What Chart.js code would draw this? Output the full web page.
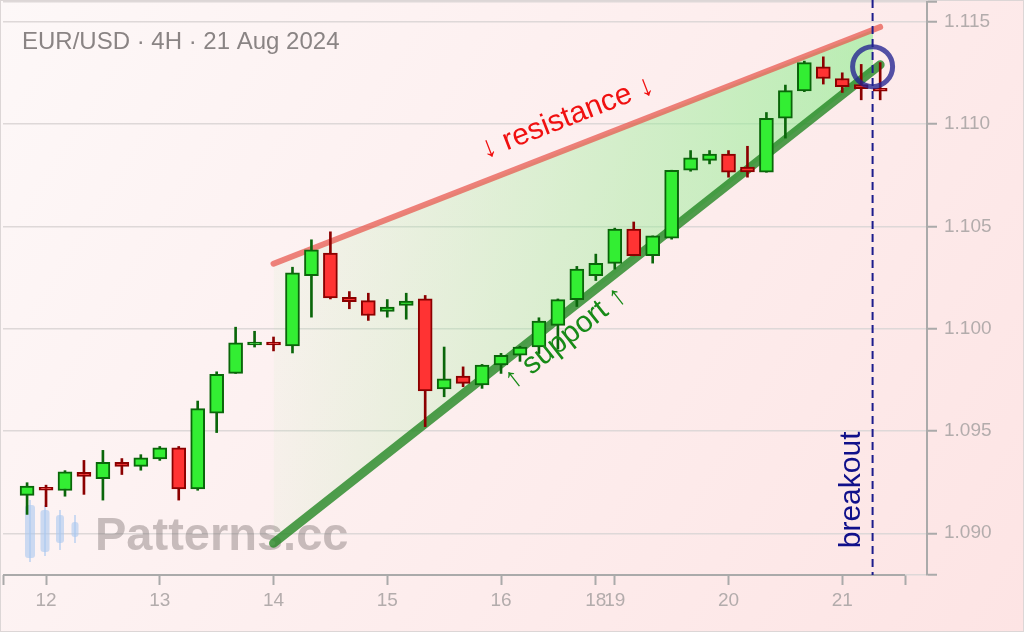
<!DOCTYPE html>
<html>
<head>
<meta charset="utf-8">
<script src="https://cdn.jsdelivr.net/npm/chart.js@4.4.1/dist/chart.umd.min.js"></script>
<style>
  html, body { margin: 0; padding: 0; background: #fdf2f2; }
  canvas { display: block; }
</style>
</head>
<body>
<canvas id="chart" width="1024" height="632"></canvas>
<script>
// EUR/USD 4H Kerzen, Index 0 = erste Kerze links
const opens  = [1.09185, 1.09220, 1.09209, 1.09298, 1.09267, 1.09347, 1.09327, 1.09363, 1.09417, 1.09217,
                1.09587, 1.09781, 1.09920, 1.09928, 1.09915, 1.10259, 1.10369, 1.10153, 1.10137, 1.10084,
                1.10113, 1.10145, 1.09705, 1.09768, 1.09725, 1.09822, 1.09870, 1.09910, 1.10016, 1.10142,
                1.10259, 1.10319, 1.10486, 1.10356, 1.10442, 1.10774, 1.10822, 1.10853, 1.10789, 1.10764,
                1.11028, 1.11161, 1.11279, 1.11222, 1.11193, 1.11173];
const highs  = [1.09247, 1.09235, 1.09306, 1.09356, 1.09405, 1.09365, 1.09384, 1.09424, 1.09424, 1.09646,
                1.09789, 1.10007, 1.09987, 1.09959, 1.10300, 1.10434, 1.10473, 1.10181, 1.10173, 1.10142,
                1.10173, 1.10162, 1.09910, 1.09813, 1.09825, 1.09879, 1.09914, 1.10053, 1.10145, 1.10304,
                1.10364, 1.10491, 1.10521, 1.10453, 1.10774, 1.10870, 1.10870, 1.10870, 1.10891, 1.11056,
                1.11190, 1.11307, 1.11328, 1.11250, 1.11291, 1.11300];
const lows   = [1.09092, 1.09130, 1.09181, 1.09190, 1.09162, 1.09287, 1.09308, 1.09356, 1.09162, 1.09210,
                1.09492, 1.09781, 1.09910, 1.09891, 1.09881, 1.10056, 1.10145, 1.10097, 1.10040, 1.10056,
                1.10046, 1.09521, 1.09667, 1.09716, 1.09708, 1.09781, 1.09840, 1.09878, 1.09900, 1.10108,
                1.10235, 1.10291, 1.10356, 1.10320, 1.10437, 1.10769, 1.10805, 1.10740, 1.10740, 1.10764,
                1.10931, 1.11158, 1.11195, 1.11154, 1.11118, 1.11118];
const closes = [1.09230, 1.09210, 1.09300, 1.09278, 1.09347, 1.09326, 1.09368, 1.09417, 1.09217, 1.09609,
                1.09776, 1.09930, 1.09928, 1.09920, 1.10272, 1.10385, 1.10150, 1.10132, 1.10064, 1.10105,
                1.10134, 1.09695, 1.09755, 1.09732, 1.09822, 1.09870, 1.09910, 1.10037, 1.10142, 1.10291,
                1.10319, 1.10486, 1.10356, 1.10453, 1.10774, 1.10834, 1.10853, 1.10764, 1.10766, 1.11028,
                1.11163, 1.11300, 1.11222, 1.11182, 1.11173, 1.11160];

// Tageslabels auf der x-Achse (erste Kerze des Tages)
const dayLabels = ["12", "13", "14", "15", "16", "18", "19", "20", "21"];
const dayStarts = [1, 7, 13, 19, 25, 30, 31, 37, 43];

// Y-Achse
const yTicks = [1.090, 1.095, 1.100, 1.105, 1.110, 1.115];
const yMin = 1.08796, yMax = 1.11596;
const xMin = -1.27, xMax = 47.47, xAxisEnd = 46.31;

// Keil: Widerstand und Unterstützung (Kerzenindex / Kurs)
const resistanceX = [13, 45];
const resistanceY = [1.10317, 1.11474];
const supportX = [13, 45];
const supportY = [1.08951, 1.11289];

// Ausbruch
const breakoutX = 44.6;
const breakoutCircleY = 1.1128;

// Beschriftungen (Kerzenindex / Kurs)
const resistanceLabel = { x: 28.5, y: 1.1103 };
const supportLabel = { x: 28.4, y: 1.09954 };
const breakoutLabel = { x: 43.5, y: 1.09212 };

const FONT = "'Liberation Sans', Arial, sans-serif";
const isUp = opens.map((o, i) => closes[i] >= o);

// Grüne Fläche im Keil, endet beim Ausbruch
function wedgeFill(context) {
  const chart = context.chart;
  const { ctx, chartArea, scales } = chart;
  if (!chartArea) return "rgba(0,0,0,0)";
  const x0 = scales.x.getPixelForValue(supportX[0]);
  const x1 = scales.x.getPixelForValue(supportX[1]);
  const xb = scales.x.getPixelForValue(breakoutX);
  const t = (xb - x0) / (x1 - x0);
  const g = ctx.createLinearGradient(x0, 0, x1, 0);
  g.addColorStop(0, "rgba(144,238,144,0.06)");
  g.addColorStop(t, "rgba(144,238,144,0.62)");
  g.addColorStop(Math.min(1, t + 0.001), "rgba(144,238,144,0)");
  g.addColorStop(1, "rgba(144,238,144,0)");
  return g;
}

function lineAngle(chart, xs, ys) {
  const sx = chart.scales.x, sy = chart.scales.y;
  const dx = sx.getPixelForValue(xs[1]) - sx.getPixelForValue(xs[0]);
  const dy = sy.getPixelForValue(ys[1]) - sy.getPixelForValue(ys[0]);
  return Math.atan2(dy, dx);
}

function drawLabel(ctx, text, x, y, angle, color) {
  ctx.save();
  ctx.translate(x, y);
  ctx.rotate(angle);
  ctx.font = "30px " + FONT;
  ctx.fillStyle = color;
  ctx.textAlign = "center";
  ctx.textBaseline = "middle";
  ctx.fillText(text, 0, 0);
  ctx.restore();
}

// Scale-Ränder nicht automatisch reservieren
function noPadding(s) {
  s.paddingTop = 0;
  s.paddingBottom = 0;
  s.paddingLeft = 0;
  s.paddingRight = 0;
}

// Hintergrund, Wasserzeichen und Markierungen
const deko = {
  id: "deko",
  beforeDraw(chart) {
    const { ctx, width, height } = chart;
    const g = ctx.createLinearGradient(0, 0, width, height);
    g.addColorStop(0, "#fdf8f8");
    g.addColorStop(1, "#fde4e4");
    ctx.save();
    ctx.fillStyle = g;
    ctx.fillRect(0, 0, width, height);
    ctx.strokeStyle = "#dcd6d6";
    ctx.lineWidth = 1;
    ctx.strokeRect(0.5, 0.5, width - 1, height - 1);
    ctx.restore();
  },
  beforeDatasetsDraw(chart) {
    const ctx = chart.ctx;
    ctx.save();
    // kleines Kerzen-Logo
    const logo = [[30, 500, 562, 505, 558, 10], [45, 505, 556, 510, 552, 9], [60, 510, 550, 515, 543, 8], [75, 515, 543, 522, 537, 7]];
    ctx.fillStyle = "rgba(170,200,240,0.6)";
    ctx.strokeStyle = "rgba(170,200,240,0.6)";
    ctx.lineWidth = 2;
    logo.forEach(([cx, wt, wb, bt, bb, w]) => {
      ctx.beginPath();
      ctx.moveTo(cx, wt);
      ctx.lineTo(cx, wb);
      ctx.stroke();
      ctx.beginPath();
      ctx.roundRect(cx - w / 2, bt, w, bb - bt, 3);
      ctx.fill();
    });
    ctx.font = "bold 47px " + FONT;
    ctx.fillStyle = "rgba(110,100,100,0.38)";
    ctx.textBaseline = "alphabetic";
    ctx.fillText("Patterns.cc", 95, 550);
    ctx.restore();
  },
  afterDatasetsDraw(chart) {
    const { ctx, chartArea, scales } = chart;
    const sx = scales.x, sy = scales.y;
    ctx.save();

    // x-Achsenlinie
    ctx.strokeStyle = "#aaa";
    ctx.lineWidth = 2;
    ctx.beginPath();
    ctx.moveTo(sx.getPixelForValue(xMin), chartArea.bottom);
    ctx.lineTo(sx.getPixelForValue(xAxisEnd), chartArea.bottom);
    ctx.stroke();

    // Ausbruchslinie
    const bx = sx.getPixelForValue(breakoutX);
    ctx.strokeStyle = "#1c1c8c";
    ctx.lineWidth = 2;
    ctx.setLineDash([8, 5]);
    ctx.beginPath();
    ctx.moveTo(bx, 0);
    ctx.lineTo(bx, chartArea.bottom);
    ctx.stroke();
    ctx.setLineDash([]);

    // Kreis am Ausbruch
    ctx.strokeStyle = "rgba(35,35,145,0.78)";
    ctx.lineWidth = 5;
    ctx.beginPath();
    ctx.arc(bx, sy.getPixelForValue(breakoutCircleY), 20, 0, Math.PI * 2);
    ctx.stroke();

    // Texte
    drawLabel(ctx, "↓ resistance ↓", sx.getPixelForValue(resistanceLabel.x), sy.getPixelForValue(resistanceLabel.y),
      lineAngle(chart, resistanceX, resistanceY), "#f01010");
    drawLabel(ctx, "↑ support ↑", sx.getPixelForValue(supportLabel.x), sy.getPixelForValue(supportLabel.y),
      lineAngle(chart, supportX, supportY), "#178a17");
    drawLabel(ctx, "breakout", sx.getPixelForValue(breakoutLabel.x), sy.getPixelForValue(breakoutLabel.y),
      -Math.PI / 2, "#10108a");

    // Titel
    ctx.font = "24px " + FONT;
    ctx.fillStyle = "#8a8484";
    ctx.textAlign = "left";
    ctx.textBaseline = "alphabetic";
    ctx.fillText("EUR/USD · 4H · 21 Aug 2024", 22, 49);
    ctx.restore();
  }
};

const ctx = document.getElementById("chart").getContext("2d");

new Chart(ctx, {
  type: "bar",
  data: {
    datasets: [
      {
        type: "line",
        label: "Widerstand",
        data: resistanceX.map((x, i) => ({ x, y: resistanceY[i] })),
        borderColor: "rgba(232,85,75,0.72)",
        borderWidth: 6,
        borderCapStyle: "round",
        pointRadius: 0,
        fill: false,
        order: 3,
      },
      {
        type: "line",
        label: "Unterstützung",
        data: supportX.map((x, i) => ({ x, y: supportY[i] })),
        borderColor: "rgba(35,135,35,0.8)",
        borderWidth: 9,
        borderCapStyle: "round",
        pointRadius: 0,
        fill: "-1",
        backgroundColor: wedgeFill,
        order: 3,
      },
      {
        label: "Docht",
        data: opens.map((o, i) => ({ x: i, y: [lows[i], highs[i]] })),
        backgroundColor: isUp.map((u) => (u ? "#0a660a" : "#8b0000")),
        barThickness: 2,
        grouped: false,
        order: 2,
      },
      {
        label: "Körper",
        data: opens.map((o, i) => ({ x: i, y: [o, closes[i]] })),
        backgroundColor: isUp.map((u) => (u ? "#33ee33" : "#ff3333")),
        borderColor: isUp.map((u) => (u ? "#0a660a" : "#8b0000")),
        borderWidth: 2,
        borderSkipped: false,
        barThickness: 14,
        minBarLength: 3,
        grouped: false,
        order: 1,
      },
    ],
  },
  options: {
    responsive: false,
    animation: false,
    layout: { padding: { left: 3, top: 2, right: 0, bottom: 0 } },
    plugins: {
      legend: { display: false },
      tooltip: { enabled: false },
    },
    scales: {
      x: {
        type: "linear",
        min: xMin,
        max: xMax,
        offset: false,
        afterBuildTicks: (s) => {
          s.ticks = [xMin, ...dayStarts, xAxisEnd].map((v) => ({ value: v }));
        },
        afterFit: (s) => { s.height = 57; noPadding(s); },
        ticks: {
          autoSkip: false,
          maxRotation: 0,
          padding: 4,
          color: "#b3acac",
          font: { size: 19, family: FONT },
          callback: (v) => {
            const k = dayStarts.indexOf(v);
            return k >= 0 ? dayLabels[k] : "";
          },
        },
        grid: { drawOnChartArea: false, offset: false, tickLength: 10, tickColor: "#aaa", tickWidth: 2 },
        border: { display: false },
      },
      y: {
        position: "right",
        min: yMin,
        max: yMax,
        afterBuildTicks: (s) => {
          s.ticks = [yMin, ...yTicks, yMax].map((v) => ({ value: v }));
        },
        afterFit: (s) => { s.width = 97; noPadding(s); },
        ticks: {
          autoSkip: false,
          padding: 7,
          color: "#b3acac",
          font: { size: 19, family: FONT },
          callback: (v) => (yTicks.includes(v) ? v.toFixed(3) : ""),
        },
        grid: { color: "#ded8d8", lineWidth: 1.5, tickLength: 10, tickColor: "#aaa", tickWidth: 2 },
        border: { color: "#aaa", width: 2 },
      },
    },
  },
  plugins: [deko],
});
</script>
</body>
</html>
